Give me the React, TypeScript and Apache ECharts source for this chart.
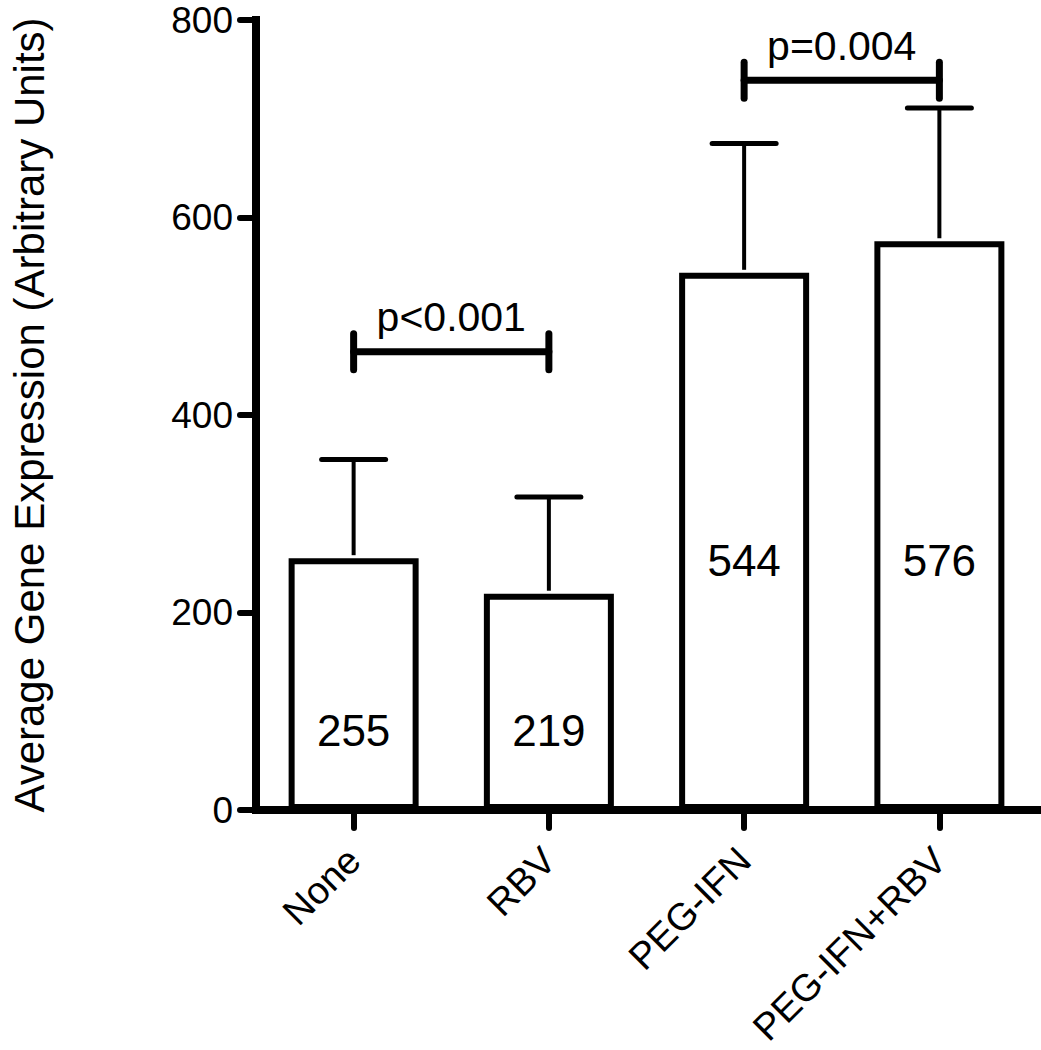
import React, { useEffect, useRef } from "react";
import * as echarts from "echarts";

const categories = ["None", "RBV", "PEG-IFN", "PEG-IFN+RBV"];
const means = [255, 219, 544, 576];
const errorTops = [355, 317, 675, 711];
const valueLabelAt = [81, 81, 253, 253];
const yMin = 0;
const yMax = 800;
const yInterval = 200;
const comparisonFrom = [0, 2];
const comparisonTo = [1, 3];
const comparisonY = [464, 739];
const comparisonText = ["p<0.001", "p=0.004"];
const yTitle = "Average Gene Expression (Arbitrary Units)";

const FONT = "Liberation Sans, Arial, Helvetica, sans-serif";

export default function App() {
  const ref = useRef<HTMLDivElement>(null);
  useEffect(() => {
    if (!ref.current) return;
    const chart = echarts.init(ref.current, undefined, { renderer: "svg" });
    const option: any = {
      animation: false,
      backgroundColor: "#ffffff",
      grid: { left: 255, right: 4, top: 20, bottom: 240, containLabel: false },
      xAxis: {
        type: "category",
        data: categories,
        boundaryGap: true,
        axisLine: { show: true, lineStyle: { color: "#000", width: 8, cap: "square" } },
        axisTick: { show: true, alignWithLabel: true, length: 18, lineStyle: { color: "#000", width: 6, cap: "round" } },
        axisLabel: { interval: 0, rotate: 45, fontSize: 38, color: "#000", fontFamily: FONT, margin: 44 },
        splitLine: { show: false },
      },
      yAxis: {
        type: "value",
        min: yMin,
        max: yMax,
        interval: yInterval,
        name: yTitle,
        nameLocation: "middle",
        nameRotate: 90,
        nameGap: 206,
        nameTextStyle: { fontSize: 42, color: "#000", fontFamily: FONT },
        axisLine: { show: true, lineStyle: { color: "#000", width: 8, cap: "square" } },
        axisTick: { show: true, length: 16, lineStyle: { color: "#000", width: 6, cap: "round" } },
        axisLabel: { fontSize: 37, color: "#000", fontFamily: FONT, margin: 23 },
        splitLine: { show: false },
      },
      series: [
        {
          type: "bar",
          data: means,
          barWidth: 130,
          itemStyle: { color: "#ffffff", borderColor: "#000", borderWidth: 6 },
          z: 2,
        },
        {
          type: "custom",
          z: 3,
          data: categories.map((_, i) => [i, errorTops[i], means[i]]),
          renderItem: (params: any, api: any) => {
            const i = api.value(0);
            const top = api.value(1);
            const base = api.value(2);
            const p0 = api.coord([i, base]);
            const p1 = api.coord([i, top]);
            return {
              type: "group",
              children: [
                { type: "line", shape: { x1: p0[0], y1: p0[1] - 3, x2: p1[0], y2: p1[1] }, style: { stroke: "#000", lineWidth: 4 } },
                { type: "line", shape: { x1: p1[0] - 32, y1: p1[1], x2: p1[0] + 32, y2: p1[1] }, style: { stroke: "#000", lineWidth: 5, lineCap: "round" } },
              ],
            };
          },
        },
        {
          type: "custom",
          z: 4,
          data: categories.map((_, i) => [i, valueLabelAt[i], means[i]]),
          renderItem: (params: any, api: any) => {
            const i = api.value(0);
            const p = api.coord([i, api.value(1)]);
            return {
              type: "text",
              x: p[0],
              y: p[1],
              style: { text: String(means[params.dataIndex]), fontSize: 44, fontFamily: FONT, fill: "#000", align: "center", verticalAlign: "middle" },
            };
          },
        },
        {
          type: "custom",
          z: 5,
          data: comparisonY.map((y, k) => [comparisonFrom[k], comparisonTo[k], y]),
          renderItem: (params: any, api: any) => {
            const a = api.coord([api.value(0), api.value(2)]);
            const b = api.coord([api.value(1), api.value(2)]);
            const k = params.dataIndex;
            const st = { stroke: "#000", lineWidth: 7, lineCap: "round" };
            return {
              type: "group",
              children: [
                { type: "line", shape: { x1: a[0], y1: a[1], x2: b[0], y2: b[1] }, style: st },
                { type: "line", shape: { x1: a[0], y1: a[1] - 18, x2: a[0], y2: a[1] + 18 }, style: st },
                { type: "line", shape: { x1: b[0], y1: b[1] - 18, x2: b[0], y2: b[1] + 18 }, style: st },
                {
                  type: "text",
                  x: (a[0] + b[0]) / 2,
                  y: a[1] - 14,
                  style: { text: comparisonText[k], fontSize: 41, fontFamily: FONT, fill: "#000", align: "center", verticalAlign: "bottom" },
                },
              ],
            };
          },
        },
      ],
    };
    chart.setOption(option);
    return () => chart.dispose();
  }, []);
  return (
    <div
      ref={ref}
      style={{ position: "fixed", left: 0, top: 0, width: 1041, height: 1050, background: "#fff" }}
    />
  );
}
